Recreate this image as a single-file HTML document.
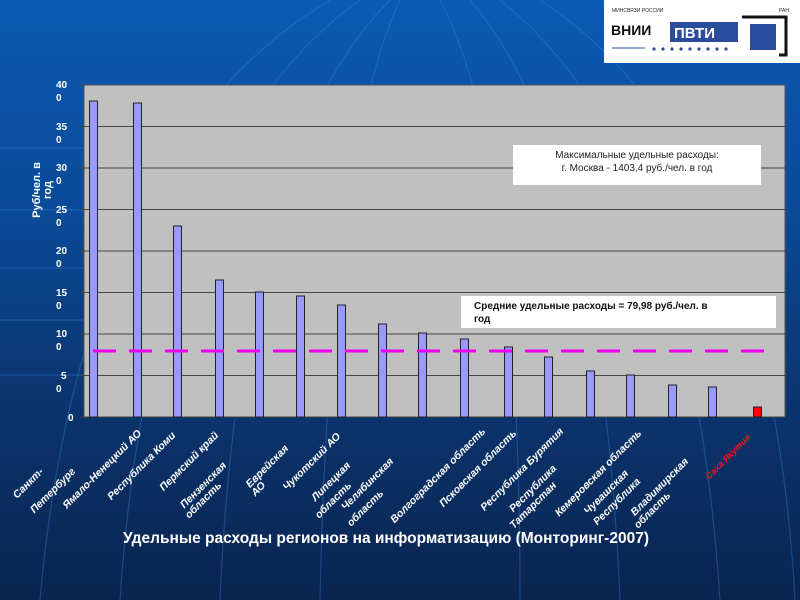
<!DOCTYPE html>
<html><head><meta charset="utf-8"><style>
html,body{margin:0;padding:0;width:800px;height:600px;overflow:hidden;}
body{position:relative;background:linear-gradient(180deg,#0b5ab4 0%,#0a4a98 35%,#0b3670 65%,#0a2450 100%);font-family:"Liberation Sans",sans-serif;}
svg{display:block;overflow:hidden;}
</style></head><body>
<svg width="800" height="600" viewBox="0 0 800 600" xmlns="http://www.w3.org/2000/svg" style="position:absolute;left:0;top:0">
<g stroke="#3a8ae0" stroke-opacity="0.35" fill="none" stroke-width="1.2">
<path d="M40 600 Q80 150 330 0"/>
<path d="M120 600 Q150 150 360 0"/>
<path d="M220 600 Q240 150 390 0"/>
<path d="M320 600 Q330 150 400 0"/>
<path d="M520 600 Q520 150 440 0"/>
<path d="M620 600 Q600 150 470 0"/>
<path d="M720 600 Q690 150 500 0"/>
<path d="M795 600 Q770 150 540 0"/>
<line x1="0" y1="148" x2="84" y2="148"/><line x1="0" y1="210" x2="84" y2="210"/>
<line x1="0" y1="268" x2="84" y2="268"/><line x1="0" y1="320" x2="84" y2="320"/>
<line x1="0" y1="375" x2="84" y2="375"/>
</g>
<rect x="604" y="0" width="196" height="63" fill="#fff"/>
<text x="612" y="12" font-size="5" fill="#222">МИНСВЯЗИ РОССИИ</text>
<text x="779" y="12" font-size="5" fill="#222">РАН</text>
<text x="611" y="35" font-size="14" font-weight="bold" fill="#111">ВНИИ</text>
<rect x="670" y="22" width="68" height="20" fill="#2a4c9c"/>
<text x="674" y="38" font-size="15" font-weight="bold" fill="#fff">ПВТИ</text>
<path d="M742 17 H786 V55 H779" stroke="#111" stroke-width="3" fill="none"/>
<rect x="750" y="24" width="26" height="26" fill="#2a4c9c"/>
<line x1="612" y1="48" x2="645" y2="48" stroke="#2a4c9c"/>
<g fill="#2a4c9c"><circle cx="654" cy="49" r="1.6"/><circle cx="663" cy="49" r="1.6"/><circle cx="672" cy="49" r="1.6"/><circle cx="681" cy="49" r="1.6"/><circle cx="690" cy="49" r="1.6"/><circle cx="699" cy="49" r="1.6"/><circle cx="708" cy="49" r="1.6"/><circle cx="717" cy="49" r="1.6"/><circle cx="726" cy="49" r="1.6"/></g>
<rect x="84" y="85" width="701" height="332" fill="#c0c0c0" stroke="#555" stroke-width="1"/>
<g stroke="#444" stroke-width="1">
<line x1="80" y1="126.5" x2="785" y2="126.5"/><line x1="80" y1="168" x2="785" y2="168"/>
<line x1="80" y1="209.5" x2="785" y2="209.5"/><line x1="80" y1="251" x2="785" y2="251"/>
<line x1="80" y1="292.5" x2="785" y2="292.5"/><line x1="80" y1="334" x2="785" y2="334"/>
<line x1="80" y1="375.5" x2="785" y2="375.5"/><line x1="80" y1="85" x2="84" y2="85"/><line x1="80" y1="417" x2="785" y2="417"/>
</g>
<g font-size="10" font-weight="bold" fill="#fff">
<text x="56" y="88">40</text><text x="56" y="101">0</text>
<text x="56" y="130">35</text><text x="56" y="143">0</text>
<text x="56" y="171">30</text><text x="56" y="184">0</text>
<text x="56" y="213">25</text><text x="56" y="226">0</text>
<text x="56" y="254">20</text><text x="56" y="267">0</text>
<text x="56" y="296">15</text><text x="56" y="309">0</text>
<text x="56" y="337">10</text><text x="56" y="350">0</text>
<text x="61" y="379">5</text><text x="56" y="392">0</text>
<text x="68" y="421">0</text>
</g>
<g font-size="11" font-weight="bold" fill="#fff" transform="translate(40,190) rotate(-90)" text-anchor="middle">
<text x="0" y="0">Руб/чел. в</text><text x="0" y="11">год</text>
</g>
<g fill="#9999ff" stroke="#222" stroke-width="1">
<rect x="89.5" y="101" width="8" height="316"/>
<rect x="133.5" y="103" width="8" height="314"/>
<rect x="173.5" y="226" width="8" height="191"/>
<rect x="215.5" y="280" width="8" height="137"/>
<rect x="255.5" y="292" width="8" height="125"/>
<rect x="296.5" y="296" width="8" height="121"/>
<rect x="337.5" y="305" width="8" height="112"/>
<rect x="378.5" y="324" width="8" height="93"/>
<rect x="418.5" y="333" width="8" height="84"/>
<rect x="460.5" y="339" width="8" height="78"/>
<rect x="504.5" y="347" width="8" height="70"/>
<rect x="544.5" y="357" width="8" height="60"/>
<rect x="586.5" y="371" width="8" height="46"/>
<rect x="626.5" y="375" width="8" height="42"/>
<rect x="668.5" y="385" width="8" height="32"/>
<rect x="708.5" y="387" width="8" height="30"/>
<rect x="753.5" y="407" width="8" height="10" fill="#ff0000"/>
</g>
<line x1="93" y1="351" x2="770" y2="351" stroke="#ee00ee" stroke-width="3" stroke-dasharray="23,13"/>
<rect x="513" y="145" width="248" height="40" fill="#fff"/>
<text x="637" y="158" font-size="10" fill="#222" text-anchor="middle">Максимальные удельные расходы:</text>
<text x="637" y="171" font-size="10" fill="#222" text-anchor="middle">г. Москва - 1403,4 руб./чел. в год</text>
<rect x="461" y="296" width="315" height="32" fill="#fff"/>
<text x="474" y="309" font-size="10" font-weight="bold" fill="#111">Средние удельные расходы = 79,98 руб./чел. в</text>
<text x="474" y="322" font-size="10" font-weight="bold" fill="#111">год</text>
<g font-size="10.5" font-weight="bold" font-style="italic" fill="#fff" text-anchor="end">
<text transform="translate(44,472) rotate(-45)">Санкт-</text>
<text transform="translate(76,472) rotate(-45)">Петербург</text>
<text transform="translate(142,434) rotate(-45)">Ямало-Ненецкий АО</text>
<text transform="translate(176,436) rotate(-45)">Республика Коми</text>
<text transform="translate(219,436) rotate(-45)">Пермский край</text>
<text transform="translate(227,466) rotate(-45)">Пензенская</text>
<text transform="translate(222,486) rotate(-45)">область</text>
<text transform="translate(289,449) rotate(-45)">Еврейская</text>
<text transform="translate(266,486) rotate(-45)">АО</text>
<text transform="translate(341,437) rotate(-45)">Чукотский АО</text>
<text transform="translate(351,466) rotate(-45)">Липецкая</text>
<text transform="translate(352,486) rotate(-45)">область</text>
<text transform="translate(394,462) rotate(-45)">Челябинская</text>
<text transform="translate(384,494) rotate(-45)">область</text>
<text transform="translate(486,432) rotate(-45)">Волгоградская область</text>
<text transform="translate(517,434) rotate(-45)">Псковская область</text>
<text transform="translate(564,432) rotate(-45)">Республика Бурятия</text>
<text transform="translate(557,469) rotate(-45)">Республика</text>
<text transform="translate(557,486) rotate(-45)">Татарстан</text>
<text transform="translate(642,434) rotate(-45)">Кемеровская область</text>
<text transform="translate(629,474) rotate(-45)">Чувашская</text>
<text transform="translate(641,482) rotate(-45)">Республика</text>
<text transform="translate(689,462) rotate(-45)">Владимирская</text>
<text transform="translate(671,496) rotate(-45)">область</text>
<text transform="translate(751,438) rotate(-45)" fill="#ff1010" font-size="9">Саха Якутия</text>
</g>
<text x="386" y="543" font-size="15.5" font-weight="bold" fill="#fff" text-anchor="middle">Удельные расходы регионов на информатизацию (Монторинг-2007)</text>
</svg>
</body></html>
